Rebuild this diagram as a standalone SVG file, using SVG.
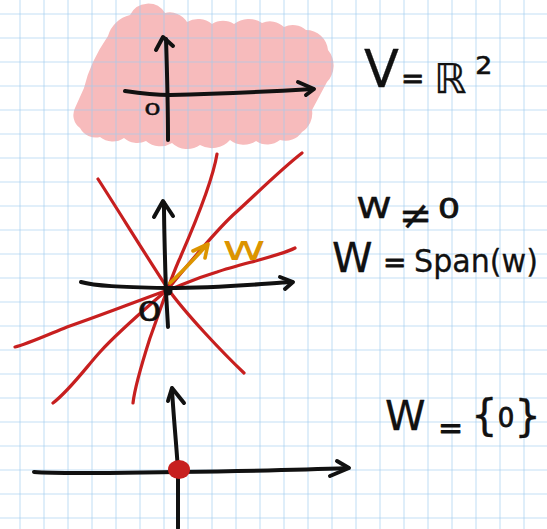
<svg xmlns="http://www.w3.org/2000/svg" width="547" height="529" viewBox="0 0 547 529">
<style>
.grid line{stroke:rgb(160,205,238);stroke-opacity:0.42;stroke-width:1.6}
.ink{fill:none;stroke:#111;stroke-width:4;stroke-linecap:round;stroke-linejoin:round}
.red{fill:none;stroke:#c71f1f;stroke-width:3.2;stroke-linecap:round;stroke-linejoin:round}
.orange{fill:none;stroke:#dc9400;stroke-width:3.6;stroke-linecap:round;stroke-linejoin:round}
.hand{font-family:"DejaVu Sans","Liberation Sans",sans-serif;fill:#111;stroke:#111;stroke-width:0.3;stroke-linejoin:round}
.hand-o{font-family:"DejaVu Sans","Liberation Sans",sans-serif;fill:#dc9400}
</style>
<rect width="547" height="529" fill="#ffffff"/>
<g id="blob">
<path fill="#f7bbbc" d="M108,36 A30 30 0 0 1 130,15 A20 20 0 0 1 165,13 A20 20 0 0 1 187,22 A22 22 0 0 1 212,24 A20 20 0 0 1 234,24 A24 24 0 0 1 262,23 A20 20 0 0 1 284,27 A20 20 0 0 1 306,30 A22 22 0 0 1 328,50 A24 24 0 0 1 327,82 L312,110 A22 22 0 0 1 302,132 A20 20 0 0 1 280,140 A20 20 0 0 1 256,141 A22 22 0 0 1 230,140 A24 24 0 0 1 200,145 A22 22 0 0 1 172,143 A22 22 0 0 1 146,141 A20 20 0 0 1 124,138 A20 20 0 0 1 100,137 A18 18 0 0 1 80,128 A16 16 0 0 1 75,108 L84,88 Q90,62 108,36 Z"/>
</g>
<g id="grid" class="grid">
<line x1="20" y1="0" x2="20" y2="529"/><line x1="44" y1="0" x2="44" y2="529"/><line x1="68" y1="0" x2="68" y2="529"/><line x1="92" y1="0" x2="92" y2="529"/><line x1="116" y1="0" x2="116" y2="529"/><line x1="140" y1="0" x2="140" y2="529"/><line x1="164" y1="0" x2="164" y2="529"/><line x1="188" y1="0" x2="188" y2="529"/><line x1="212" y1="0" x2="212" y2="529"/><line x1="236" y1="0" x2="236" y2="529"/><line x1="260" y1="0" x2="260" y2="529"/><line x1="284" y1="0" x2="284" y2="529"/><line x1="308" y1="0" x2="308" y2="529"/><line x1="332" y1="0" x2="332" y2="529"/><line x1="356" y1="0" x2="356" y2="529"/><line x1="380" y1="0" x2="380" y2="529"/><line x1="404" y1="0" x2="404" y2="529"/><line x1="428" y1="0" x2="428" y2="529"/><line x1="452" y1="0" x2="452" y2="529"/><line x1="476" y1="0" x2="476" y2="529"/><line x1="500" y1="0" x2="500" y2="529"/><line x1="524" y1="0" x2="524" y2="529"/>
<line x1="0" y1="14" x2="547" y2="14"/><line x1="0" y1="38" x2="547" y2="38"/><line x1="0" y1="62" x2="547" y2="62"/><line x1="0" y1="86" x2="547" y2="86"/><line x1="0" y1="110" x2="547" y2="110"/><line x1="0" y1="134" x2="547" y2="134"/><line x1="0" y1="158" x2="547" y2="158"/><line x1="0" y1="182" x2="547" y2="182"/><line x1="0" y1="206" x2="547" y2="206"/><line x1="0" y1="230" x2="547" y2="230"/><line x1="0" y1="254" x2="547" y2="254"/><line x1="0" y1="278" x2="547" y2="278"/><line x1="0" y1="302" x2="547" y2="302"/><line x1="0" y1="326" x2="547" y2="326"/><line x1="0" y1="350" x2="547" y2="350"/><line x1="0" y1="374" x2="547" y2="374"/><line x1="0" y1="398" x2="547" y2="398"/><line x1="0" y1="422" x2="547" y2="422"/><line x1="0" y1="446" x2="547" y2="446"/><line x1="0" y1="470" x2="547" y2="470"/><line x1="0" y1="494" x2="547" y2="494"/><line x1="0" y1="518" x2="547" y2="518"/>
</g>
<g id="plane-V">
<path class="ink" d="M168,140 C168,110 167,70 166,39"/>
<path class="ink" d="M156,50 L163,37 L173,46"/>
<path class="ink" d="M125,91 C145,94 160,95 170,95 C220,94 262,92 313,89"/>
<path class="ink" d="M298,82 L314,89 L306,95"/>
<text class="hand" x="144" y="115" font-size="15" stroke-width="1.4" textLength="17" lengthAdjust="spacingAndGlyphs">0</text>
</g>
<g id="plane-lines">
<path class="red" d="M98,179 C118,210 150,262 168,289 C186,314 222,352 244,373"/>
<path class="red" d="M217,154 C212,185 190,235 180,258 C172,275 160,310 150,338 C143,360 135,385 133,403"/>
<path class="red" d="M302,153 C280,170 250,200 233,215 C215,232 190,262 168,289 C150,305 120,330 100,352 C88,365 70,390 53,403"/>
<path class="red" d="M295,248 C280,256 240,264 217,272 C190,280 180,286 168,290 C140,300 110,312 67,327 C45,336 25,345 15,347"/>
<path class="ink" d="M168,327 L166,292 C165,260 164,230 164,203"/>
<path class="ink" d="M154,217 L163,201 L173,216"/>
<path class="ink" d="M81,282 C95,286 120,287 166,288 C220,288 260,284 292,282"/>
<path class="ink" d="M280,277 L293,282 L285,289"/>
<circle cx="168" cy="291" r="4.5" fill="#111"/>
<path class="orange" d="M170,283 C180,274 195,258 206,246"/>
<path class="orange" d="M193,251 L208,244 L205,258"/>
<text class="hand-o" x="222" y="260" font-size="33" textLength="44" lengthAdjust="spacingAndGlyphs">w</text>
<text class="hand" x="137" y="321" font-size="26" stroke-width="1.6" textLength="25" lengthAdjust="spacingAndGlyphs">0</text>
</g>
<g id="zero-subspace">
<path class="ink" d="M178,528 L178,470 C176,440 173,410 172,389"/>
<path class="ink" d="M168,401 L172,388 L184,403"/>
<path class="ink" d="M34,472 C60,474 100,473 175,472 C250,471 300,470 348,468"/>
<path class="ink" d="M337,461 L349,468 L330,476"/>
<ellipse cx="179" cy="469.5" rx="11" ry="9.5" fill="#c71f1f"/>
</g>
<g id="labels">
<text class="hand"><tspan x="364" y="87" font-size="51">V</tspan> <tspan x="401" y="88" font-size="28" stroke-width="0.8">=</tspan> <tspan x="434" y="93" font-size="41">ℝ</tspan><tspan x="475" y="88" font-size="44">²</tspan></text>
<text class="hand"><tspan x="356" y="218" font-size="38" textLength="36" lengthAdjust="spacingAndGlyphs">w</tspan> <tspan x="399" y="229" font-size="40">≠</tspan> <tspan x="438" y="218" font-size="27" stroke-width="0.8" textLength="22" lengthAdjust="spacingAndGlyphs">0</tspan></text>
<text class="hand"><tspan x="332" y="272" font-size="41">W</tspan> <tspan x="383" y="272" font-size="28" stroke-width="0.8">=</tspan> <tspan x="414" y="272" font-size="32" textLength="124" lengthAdjust="spacingAndGlyphs">Span(w)</tspan></text>
<text class="hand"><tspan x="385" y="430" font-size="41">W</tspan> <tspan x="438" y="438" font-size="30" stroke-width="0.8">=</tspan> <tspan x="471" y="430" font-size="42">{</tspan><tspan y="427" font-size="26" stroke-width="0.8">0</tspan><tspan y="431" font-size="42">}</tspan></text>
</g>
</svg>
